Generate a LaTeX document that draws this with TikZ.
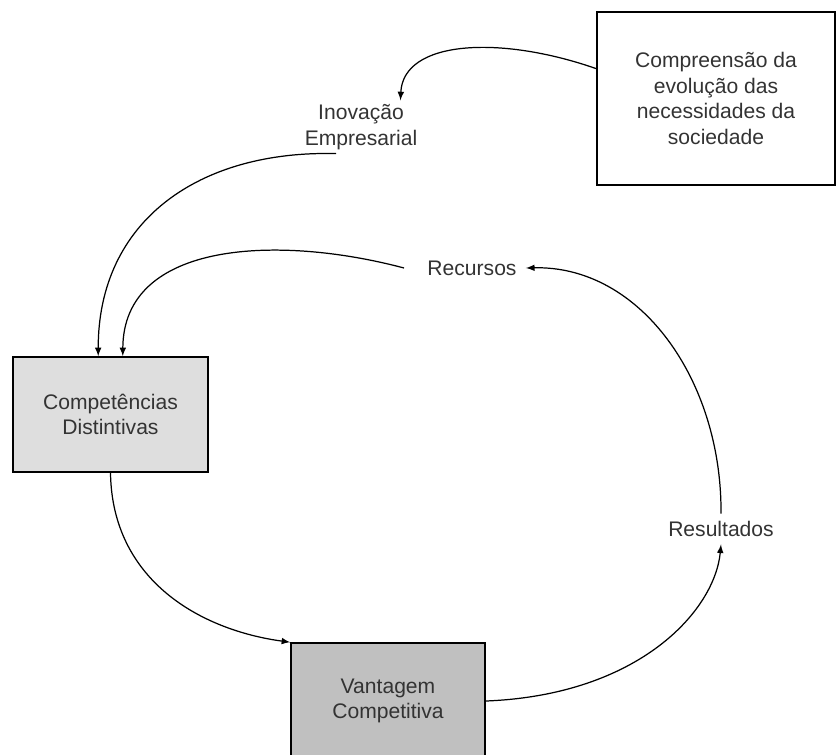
\documentclass[tikz,border=0pt]{standalone}
\usepackage{fontspec}
\setmainfont{Liberation Sans}
\definecolor{lightbox}{HTML}{DEDEDE}
\definecolor{darkbox}{HTML}{C0C0C0}
\definecolor{txtgray}{HTML}{333333}
\begin{document}
\begin{tikzpicture}[x=0.02cm, y=-0.02cm, >=latex, line width=0.7pt,
    every node/.style={font=\fontsize{12}{14.5}\selectfont, text=txtgray},
    box/.style={rectangle, draw=black, line width=0.9pt, align=center, inner sep=0pt},
    lbl/.style={align=center, inner sep=2pt}]
      \useasboundingbox (0,0) rectangle (837,754);
      % Nodes
      \node[box, minimum width=4.76cm, minimum height=3.46cm] at (716, 98.5) (soc) {Compreensão da\\evolução das\\necessidades da\\sociedade};
      \node[lbl] at (361, 127) (ino) {Inovação\\Empresarial};
      \node[lbl, inner xsep=5pt] at (472, 268) (rec) {Recursos};
      \node[box, fill=lightbox, minimum width=3.9cm, minimum height=2.3cm] at (110.5, 414.5) (comp) {Competências\\Distintivas};
      \node[lbl, inner ysep=4pt] at (721, 529) (res) {Resultados};
      \node[box, fill=darkbox, minimum width=3.88cm, minimum height=2.32cm] at (388, 701) (vant) {Vantagem\\Competitiva};

      \draw[->] (soc.166) .. controls (500,35) and (403,40) .. (ino.34);
      \draw[->] (ino.227) .. controls (200,150) and (98,220) .. ([xshift=-7pt]comp.north);
      \draw[->] ([xshift=-8pt]rec.west) .. controls (280,235) and (123,240) .. ([xshift=7pt]comp.north);

      \draw[->] (comp.south) .. controls (112,580) and (200,630) .. (vant.north west);
      \draw[->] (vant.east) .. controls (640,695) and (715,610) .. (res.south);
      \draw[->] (res.north) .. controls (722,380) and (640,265) .. (rec.east);
    \end{tikzpicture}
\end{document}
